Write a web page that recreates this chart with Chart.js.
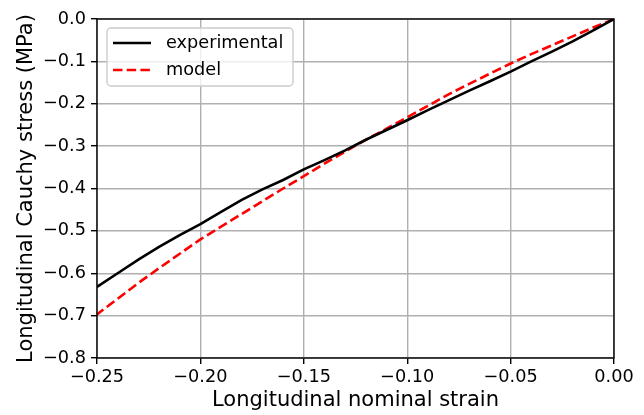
<!DOCTYPE html>
<html>
<head>
<meta charset="utf-8">
<script src="https://cdn.jsdelivr.net/npm/chart.js@4.4.1/dist/chart.umd.min.js"></script>
<style>
  html, body { margin: 0; padding: 0; background: #fff; }
  canvas { display: block; }
</style>
</head>
<body>
<canvas id="c" width="644" height="415"></canvas>
<script>
// Longitudinal nominal strain (compression)
const strain = [0, -0.01, -0.02, -0.03, -0.04, -0.05, -0.06, -0.07, -0.08, -0.09,
  -0.10, -0.11, -0.12, -0.13, -0.14, -0.15, -0.16, -0.17, -0.18, -0.19,
  -0.20, -0.21, -0.22, -0.23, -0.24, -0.25];

// Measured Cauchy stress (MPa)
const experimental = [0, -0.027, -0.053, -0.077, -0.100, -0.124, -0.147, -0.169, -0.192, -0.215,
  -0.239, -0.262, -0.285, -0.310, -0.333, -0.355, -0.380, -0.402, -0.427, -0.455,
  -0.484, -0.510, -0.538, -0.568, -0.600, -0.632];

// Model prediction (MPa)
const model = [0, -0.020, -0.041, -0.062, -0.083, -0.105, -0.129, -0.153, -0.178, -0.205,
  -0.232, -0.259, -0.285, -0.313, -0.341, -0.371, -0.400, -0.430, -0.460, -0.490,
  -0.520, -0.554, -0.588, -0.623, -0.660, -0.697];

const xTickValues = [-0.25, -0.20, -0.15, -0.10, -0.05, 0.00];
const yTickValues = [-0.8, -0.7, -0.6, -0.5, -0.4, -0.3, -0.2, -0.1, 0.0];

const TICK_FONT = { family: 'DejaVu Sans', size: 17.7 };
const LABEL_FONT = { family: 'DejaVu Sans', size: 21 };

function fmt(v, digits) {
  const s = Math.abs(v).toFixed(digits);
  return v < -1e-9 ? '\u2212' + s : s;
}

// Full box around the axes plus a framed legend in the upper-left corner
const frameAndLegend = {
  id: 'frameAndLegend',
  afterDraw(chart) {
    const { ctx, chartArea: a } = chart;
    ctx.save();
    ctx.strokeStyle = '#000';
    ctx.lineWidth = 1.4;
    ctx.setLineDash([]);
    ctx.strokeRect(a.left, a.top, a.right - a.left, a.bottom - a.top);

    const x0 = a.left + 10, y0 = a.top + 9, w = 186, h = 58, r = 4;
    ctx.beginPath();
    ctx.moveTo(x0 + r, y0);
    ctx.arcTo(x0 + w, y0, x0 + w, y0 + h, r);
    ctx.arcTo(x0 + w, y0 + h, x0, y0 + h, r);
    ctx.arcTo(x0, y0 + h, x0, y0, r);
    ctx.arcTo(x0, y0, x0 + w, y0, r);
    ctx.closePath();
    ctx.fillStyle = 'rgba(255,255,255,0.8)';
    ctx.fill();
    ctx.strokeStyle = '#cccccc';
    ctx.lineWidth = 1.4;
    ctx.stroke();

    chart.data.datasets.forEach((ds, i) => {
      const y = y0 + 15 + i * 27;
      ctx.beginPath();
      ctx.setLineDash(ds.borderDash || []);
      ctx.strokeStyle = ds.borderColor;
      ctx.lineWidth = ds.borderWidth;
      ctx.moveTo(x0 + 6, y);
      ctx.lineTo(x0 + 44, y);
      ctx.stroke();
      ctx.setLineDash([]);
      ctx.fillStyle = '#000';
      ctx.font = TICK_FONT.size + 'px "' + TICK_FONT.family + '"';
      ctx.textBaseline = 'middle';
      ctx.textAlign = 'left';
      ctx.fillText(ds.label, x0 + 59, y);
    });
    ctx.restore();
  }
};

const toPoints = ys => strain.map((x, i) => ({ x: x, y: ys[i] }));

new Chart(document.getElementById('c'), {
  type: 'line',
  data: {
    datasets: [
      {
        label: 'experimental',
        data: toPoints(experimental),
        borderColor: '#000000',
        borderWidth: 2.6,
        pointRadius: 0,
        tension: 0,
        fill: false
      },
      {
        label: 'model',
        data: toPoints(model),
        borderColor: '#ff0000',
        borderWidth: 2.6,
        borderDash: [9.5, 4.2],
        pointRadius: 0,
        tension: 0,
        fill: false
      }
    ]
  },
  options: {
    responsive: false,
    animation: false,
    devicePixelRatio: 1,
    layout: { padding: { top: 19, right: 30, left: 0, bottom: 0 } },
    plugins: {
      legend: { display: false },
      tooltip: { enabled: false }
    },
    scales: {
      x: {
        type: 'linear',
        min: -0.25,
        max: 0,
        afterBuildTicks: s => { s.ticks = xTickValues.map(v => ({ value: v })); },
        afterFit: s => { s.height = 57; },
        ticks: {
          font: TICK_FONT,
          color: '#000',
          padding: 3,
          maxRotation: 0,
          callback: v => fmt(v, 2)
        },
        grid: {
          color: '#b0b0b0',
          lineWidth: 1.4,
          drawTicks: true,
          tickLength: 6,
          tickColor: '#000',
          tickWidth: 1.4
        },
        border: { display: false },
        title: {
          display: true,
          text: 'Longitudinal nominal strain',
          font: LABEL_FONT,
          color: '#000',
          padding: { top: 0, bottom: 1.5 }
        }
      },
      y: {
        type: 'linear',
        min: -0.8,
        max: 0,
        afterBuildTicks: s => { s.ticks = yTickValues.map(v => ({ value: v })); },
        afterFit: s => { s.width = 97; },
        ticks: {
          font: TICK_FONT,
          color: '#000',
          padding: 5,
          callback: v => fmt(v, 1)
        },
        grid: {
          color: '#b0b0b0',
          lineWidth: 1.4,
          drawTicks: true,
          tickLength: 6,
          tickColor: '#000',
          tickWidth: 1.4
        },
        border: { display: false },
        title: {
          display: true,
          text: 'Longitudinal Cauchy stress (MPa)',
          font: LABEL_FONT,
          color: '#000',
          padding: { top: 13.5, bottom: 0 }
        }
      }
    }
  },
  plugins: [frameAndLegend]
});
</script>
</body>
</html>
